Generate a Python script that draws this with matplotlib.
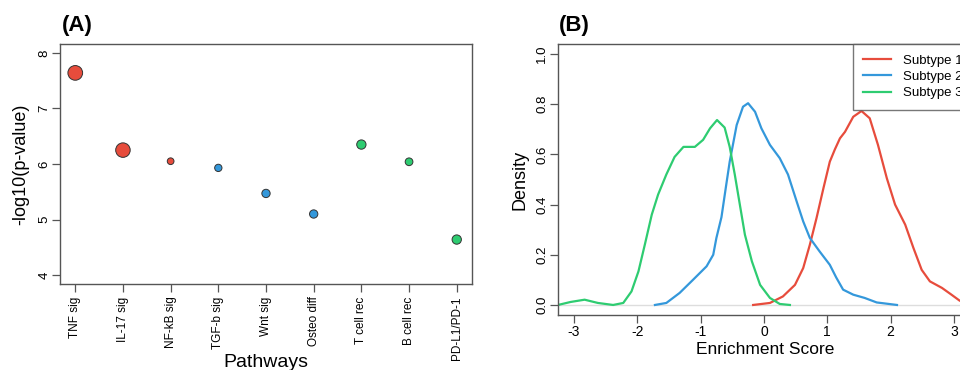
import matplotlib
matplotlib.use('Agg')
import matplotlib.pyplot as plt

plt.rcParams['font.family'] = ['Liberation Sans', 'DejaVu Sans']

# panel A: pathway enrichment
pathways = ['TNF sig', 'IL-17 sig', 'NF-kB sig', 'TGF-b sig', 'Wnt sig',
            'Osteo diff', 'T cell rec', 'B cell rec', 'PD-L1/PD-1']
neg_log_p = [7.64, 6.25, 6.05, 5.93, 5.47, 5.10, 6.35, 6.04, 4.64]
groups = [1, 1, 1, 2, 2, 2, 3, 3, 3]
bubble_diam = [14.7, 14.5, 6.7, 7.3, 8.3, 8.3, 9.3, 7.7, 9.3]  # pixels

# panel B: density curves of enrichment score
sub1_x = [-0.17, 0.095, 0.30, 0.49, 0.62, 0.725, 0.83, 0.94, 1.04, 1.12, 1.20, 1.28,
          1.41, 1.54, 1.67, 1.80, 1.94, 2.07, 2.23, 2.36, 2.49, 2.62, 2.81, 2.96,
          3.09, 3.25, 3.40]
sub1_y = [0.0, 0.008, 0.034, 0.08, 0.147, 0.24, 0.346, 0.466, 0.571, 0.62, 0.664, 0.69,
          0.75, 0.773, 0.744, 0.638, 0.505, 0.40, 0.32, 0.227, 0.14, 0.094, 0.068, 0.041,
          0.017, 0.004, 0.0]
sub2_x = [-1.72, -1.54, -1.33, -1.12, -0.905, -0.80, -0.75, -0.67, -0.60, -0.54, -0.43,
          -0.33, -0.25, -0.14, -0.04, 0.095, 0.25, 0.38, 0.52, 0.62, 0.725, 0.88, 1.04,
          1.14, 1.25, 1.41, 1.59, 1.78, 2.10]
sub2_y = [0.0, 0.008, 0.048, 0.10, 0.154, 0.20, 0.267, 0.35, 0.47, 0.571, 0.717,
          0.79, 0.804, 0.77, 0.704, 0.638, 0.585, 0.52, 0.41, 0.333, 0.267, 0.213, 0.16,
          0.11, 0.061, 0.041, 0.028, 0.01, 0.0]
sub3_x = [-3.25, -3.05, -2.83, -2.62, -2.38, -2.22, -2.09, -1.98, -1.88, -1.77, -1.67,
          -1.54, -1.41, -1.27, -1.09, -0.96, -0.85, -0.74, -0.62, -0.54, -0.46, -0.38,
          -0.30, -0.19, -0.06, 0.095, 0.25, 0.41]
sub3_y = [0.0, 0.012, 0.021, 0.008, 0.0, 0.008, 0.054, 0.134, 0.24, 0.36, 0.44,
          0.52, 0.59, 0.63, 0.63, 0.658, 0.704, 0.737, 0.707, 0.63, 0.52, 0.40,
          0.28, 0.174, 0.08, 0.028, 0.004, 0.0]
subtypes = ['Subtype 1', 'Subtype 2', 'Subtype 3']

colors = {1: '#E74C3C', 2: '#3498DB', 3: '#2ECC71'}
box_col = '#555555'

fig = plt.figure(figsize=(9.6, 3.7), dpi=100)
W, H = 960.0, 370.0


def style(ax):
    for s in ax.spines.values():
        s.set_color(box_col)
        s.set_linewidth(1.0)
    ax.tick_params(colors=box_col, labelcolor='black', length=6, width=0.9)


# ---- panel A
axA = fig.add_axes([60 / W, (H - 284) / H, 412 / W, 240 / H])
xs = list(range(1, len(pathways) + 1))
axA.scatter(xs, neg_log_p, s=[(d * 0.72) ** 2 for d in bubble_diam],
            c=[colors[g] for g in groups], edgecolors='#333333', linewidths=0.7, zorder=3)
axA.set_xlim(0.68, 9.32)
axA.set_ylim(3.84, 8.16)
axA.set_xticks(xs)
axA.set_xticklabels(pathways, rotation=90, fontsize=8.5)
axA.set_yticks([4, 5, 6, 7, 8])
axA.set_yticklabels(['4', '5', '6', '7', '8'], rotation=90, va='center', fontsize=9.5)
style(axA)
axA.tick_params(axis='x', pad=3)
axA.tick_params(axis='y', pad=1)
axA.set_ylabel('-log10(p-value)', fontsize=13)
axA.yaxis.set_label_coords(-0.075, 0.5)
axA.set_xlabel('Pathways', fontsize=14)
axA.xaxis.set_label_coords(0.5, -0.29)
fig.text(62 / W, 1 - 25 / H, '(A)', fontsize=16, fontweight='bold', va='center')

# ---- panel B
axB = fig.add_axes([558 / W, (H - 315) / H, 415 / W, 271 / H])
axB.axhline(0, color='#DDDDDD', lw=1, zorder=1)
for xv, yv, lab, g in [(sub1_x, sub1_y, subtypes[0], 1),
                       (sub2_x, sub2_y, subtypes[1], 2),
                       (sub3_x, sub3_y, subtypes[2], 3)]:
    axB.plot(xv, yv, color=colors[g], lw=1.6, label=lab, zorder=2,
             solid_joinstyle='round')
axB.set_xlim(-3.25, 3.3)
axB.set_ylim(-0.04, 1.04)
axB.set_xticks([-3, -2, -1, 0, 1, 2, 3])
axB.set_xticklabels(['-3', '-2', '-1', '0', '1', '2', '3'], fontsize=10)
axB.set_yticks([0, 0.2, 0.4, 0.6, 0.8, 1.0])
axB.set_yticklabels(['0.0', '0.2', '0.4', '0.6', '0.8', '1.0'], rotation=90,
                    va='center', fontsize=9.5)
style(axB)
axB.tick_params(axis='x', pad=1.5)
axB.tick_params(axis='y', pad=1)
axB.set_ylabel('Density', fontsize=13)
axB.yaxis.set_label_coords(-0.072, 0.5)
axB.set_xlabel('Enrichment Score', fontsize=12.5)
axB.xaxis.set_label_coords(0.5, -0.1)
leg = axB.legend(loc='upper right', fontsize=9.5, frameon=True, fancybox=False,
                 borderaxespad=0, handlelength=2.1, handletextpad=0.9,
                 labelspacing=0.3, borderpad=0.8)
leg.get_frame().set_edgecolor(box_col)
leg.get_frame().set_linewidth(1.0)
fig.text(559 / W, 1 - 25 / H, '(B)', fontsize=16, fontweight='bold', va='center')

fig.savefig('out.png', dpi=100)
